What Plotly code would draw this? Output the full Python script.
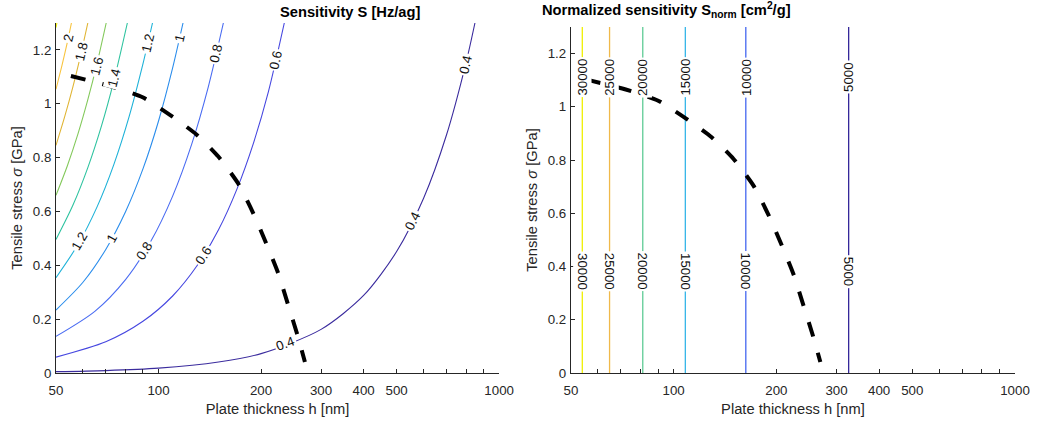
import numpy as np
import plotly.graph_objects as go

# ---------------- values ----------------
# Left panel: iso-lines of the sensitivity S [Hz/ag]
# (x = plate thickness h [nm], y = tensile stress sigma [GPa])
h_S04 = [50, 70, 100, 150, 200, 300, 400, 500, 600, 700, 800, 849]
s_S04 = [0.005, 0.009, 0.018, 0.041, 0.072, 0.162, 0.288, 0.451, 0.649, 0.883, 1.154, 1.30]
h_S06 = [50, 70, 90, 110, 130, 150, 170, 190, 210, 234]
s_S06 = [0.059, 0.116, 0.192, 0.286, 0.400, 0.532, 0.684, 0.854, 1.043, 1.30]
h_S08 = [50, 65, 80, 95, 110, 125, 140, 155]
s_S08 = [0.136, 0.229, 0.347, 0.490, 0.657, 0.848, 1.063, 1.30]
h_S10 = [50, 60, 70, 80, 90, 100, 110, 118]
s_S10 = [0.234, 0.337, 0.459, 0.599, 0.758, 0.936, 1.133, 1.30]
h_S12 = [50, 58, 66, 74, 82, 90, 96]
s_S12 = [0.354, 0.477, 0.617, 0.776, 0.953, 1.148, 1.30]
h_S14 = [50, 56, 62, 68, 74, 81]
s_S14 = [0.496, 0.622, 0.763, 0.918, 1.087, 1.30]
h_S16 = [50, 54, 58, 62, 66, 70.2]
s_S16 = [0.660, 0.770, 0.888, 1.015, 1.150, 1.30]
h_S18 = [50, 53, 56, 59, 62]
s_S18 = [0.846, 0.951, 1.061, 1.178, 1.30]
h_S20 = [50, 52, 54, 55.5]
s_S20 = [1.054, 1.140, 1.229, 1.30]
h_S22 = [50, 50.3]
s_S22 = [1.283, 1.30]

S_levels = [0.4, 0.6, 0.8, 1.0, 1.2, 1.4, 1.6, 1.8, 2.0, 2.2]
S_h = [h_S04, h_S06, h_S08, h_S10, h_S12, h_S14, h_S16, h_S18, h_S20, h_S22]
S_sig = [s_S04, s_S06, s_S08, s_S10, s_S12, s_S14, s_S16, s_S18, s_S20, s_S22]

# inline contour labels of the left panel: level and thickness where it sits
S_label_level = [2.0, 1.8, 1.6, 1.4, 1.2, 1.0, 0.8, 0.6, 0.4, 1.2, 1.0, 0.8, 0.6, 0.4, 0.4]
S_label_h = [54.3, 59.4, 65.7, 74.3, 93.1, 115.2, 147.6, 221, 797, 58.8, 72.8, 91, 135.4, 555, 236]

# Right panel: iso-lines of normalized sensitivity S_norm [cm^2/g] (vertical lines)
Sn_levels = [30000, 25000, 20000, 15000, 10000, 5000]
Sn_h = [54.0, 64.9, 81.2, 108.2, 162.7, 325.6]
Sn_label_sig = [1.111, 0.382]

# dashed limit curve (shown in both panels)
limit_h = [55.3, 72.4, 89.8, 108.5, 129.2, 149.8, 171.5, 189.6, 207, 224.6, 240, 256.6, 269]
limit_sig = [1.103, 1.065, 1.024, 0.957, 0.886, 0.804, 0.703, 0.594, 0.482, 0.370, 0.254, 0.135, 0.041]

# axes
x_range = [50, 1000]
y_range = [0, 1.3]
x_tickvals = [50, 100, 200, 300, 400, 500, 1000]
x_ticktext = ['50', '100', '200', '300', '400', '500', '1000']
x_minorvals = [60, 70, 80, 90, 600, 700, 800, 900]
y_tickvals = [0, 0.2, 0.4, 0.6, 0.8, 1.0, 1.2]

# ---------------- styles ----------------
S_colors = ['#3b2c9e', '#4647e0', '#4a6cf2', '#2b8dec', '#1fb2d8', '#2fc3a0',
            '#84c95c', '#e0b535', '#f8c43f', '#f2f20e']
Sn_colors = ['#f0f000', '#f0b94a', '#5fcb95', '#35b6e8', '#4466f0', '#35289a']
S_label_angle = [-77, -77, -76, -76, -77, -77, -77, -77, -77, -60, -61, -58, -57, -64, -20]
Sn_label_angle = [-90, 90]

FONT = 'Liberation Sans, Arial, Helvetica, sans-serif'
AX = '#262626'

fig = go.Figure()

# left panel contours
for lev, hs, ss, col in zip(S_levels, S_h, S_sig, S_colors):
    fig.add_trace(go.Scatter(x=hs, y=ss, mode='lines', xaxis='x', yaxis='y',
                             line=dict(color=col, width=1.1, shape='spline', smoothing=0.8),
                             hoverinfo='skip', showlegend=False))
fig.add_trace(go.Scatter(x=limit_h, y=limit_sig, mode='lines', xaxis='x', yaxis='y',
                         line=dict(color='black', width=4, dash='15px,17px',
                                   shape='spline', smoothing=0.6),
                         hoverinfo='skip', showlegend=False))

# right panel contours
for lev, h, col in zip(Sn_levels, Sn_h, Sn_colors):
    fig.add_trace(go.Scatter(x=[h, h], y=y_range, mode='lines', xaxis='x2', yaxis='y2',
                             line=dict(color=col, width=1.3),
                             hoverinfo='skip', showlegend=False))
fig.add_trace(go.Scatter(x=limit_h, y=limit_sig, mode='lines', xaxis='x2', yaxis='y2',
                         line=dict(color='black', width=4, dash='15px,17px',
                                   shape='spline', smoothing=0.6),
                         hoverinfo='skip', showlegend=False))

annotations = []
label_font = dict(family=FONT, size=13.3, color='#111111')
for lev, hl, ang in zip(S_label_level, S_label_h, S_label_angle):
    i = S_levels.index(lev)
    sl = float(np.interp(np.log10(hl), np.log10(S_h[i]), S_sig[i]))
    annotations.append(dict(x=np.log10(hl), y=sl, xref='x', yref='y', text=f'{lev:g}',
                            showarrow=False, textangle=ang, font=label_font,
                            bgcolor='white', borderpad=1))
for lev, h in zip(Sn_levels, Sn_h):
    for sl, ang in zip(Sn_label_sig, Sn_label_angle):
        annotations.append(dict(x=np.log10(h), y=sl, xref='x2', yref='y2', text=f'{lev:g}',
                                showarrow=False, textangle=ang, font=label_font,
                                bgcolor='white', borderpad=1))

# titles
annotations.append(dict(x=0.2311, y=1, xref='paper', yref='paper', yanchor='middle', yshift=11,
                        text='<b>Sensitivity S [Hz/ag]</b>', showarrow=False,
                        font=dict(family=FONT, size=14.7, color='black')))
annotations.append(dict(x=0.7684, y=1, xref='paper', yref='paper', yanchor='middle', yshift=13,
                        text='<b>Normalized sensitivity S<sub>norm</sub> [cm<sup>2</sup>/g]</b>',
                        showarrow=False, font=dict(family=FONT, size=14.7, color='black')))

def xaxis_style(domain, anchor):
    return dict(type='log', range=[np.log10(x_range[0]), np.log10(x_range[1])], domain=domain,
                anchor=anchor, tickmode='array', tickvals=x_tickvals, ticktext=x_ticktext,
                ticks='inside', ticklen=4, tickcolor=AX, tickwidth=1,
                minor=dict(tickmode='array', tickvals=x_minorvals, ticks='inside',
                           ticklen=4, tickcolor=AX, tickwidth=1, showgrid=False),
                ticklabelstandoff=5,
                showline=True, linecolor=AX, linewidth=1, showgrid=False, zeroline=False,
                tickfont=dict(family=FONT, size=13.3, color=AX),
                title=dict(text='Plate thickness h [nm]', standoff=6,
                           font=dict(family=FONT, size=14.7, color=AX)))

def yaxis_style(domain, anchor):
    return dict(range=y_range, domain=domain, anchor=anchor, tickmode='array',
                tickvals=y_tickvals, ticks='inside', ticklen=4, tickcolor=AX, tickwidth=1,
                showline=True, linecolor=AX, linewidth=1, showgrid=False, zeroline=False,
                ticklabelstandoff=1,
                tickfont=dict(family=FONT, size=13.3, color=AX),
                title=dict(text='Tensile stress <i>σ</i> [GPa]', standoff=6,
                           font=dict(family=FONT, size=14.7, color=AX)))

fig.update_layout(
    width=1042, height=426,
    margin=dict(l=56, r=23, t=23, b=52),
    paper_bgcolor='white', plot_bgcolor='white',
    showlegend=False,
    xaxis=xaxis_style([0, 0.4621], 'y'),
    yaxis=yaxis_style([0, 1], 'x'),
    xaxis2=xaxis_style([0.5369, 1], 'y2'),
    yaxis2=yaxis_style([0, 0.9886], 'x2'),
    annotations=annotations,
)

fig.write_html('out.html')
